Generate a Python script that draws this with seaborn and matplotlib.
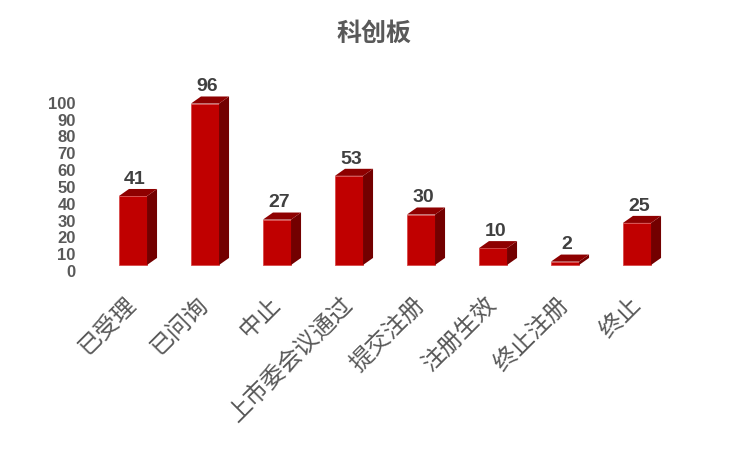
import pandas as pd
import seaborn as sns
import matplotlib.pyplot as plt
from matplotlib.patches import Polygon

# chart data
categories = ["已受理", "已问询", "中止", "上市委会议通过", "提交注册", "注册生效", "终止注册", "终止"]
counts = [41, 96, 27, 53, 30, 10, 2, 25]
y_ticks = [0, 10, 20, 30, 40, 50, 60, 70, 80, 90, 100]
title = "科创板"

data = pd.DataFrame({"status": categories, "count": counts})

sns.set_theme(style="white")
plt.rcParams['font.family'] = ['Noto Sans CJK SC', 'DejaVu Sans']

px_per_unit = 1.68
y_low = -4
bottom_px = 265 - y_low * px_per_unit
fig = plt.figure(figsize=(7.49, 4.49), dpi=100)
ax = fig.add_axes([80 / 749, (449 - bottom_px) / 449, 620 / 749, (bottom_px - 80) / 449])

bar_w = 0.39
sns.barplot(data=data, x="status", y="count", color="#C00000", width=bar_w,
            saturation=1, edgecolor="#D84A4A", linewidth=0.6, ax=ax)

# fake 3d depth: side + top faces
dx = 0.139
dy = 4.2
for p in ax.patches:
    x0 = p.get_x()
    w = p.get_width()
    h = p.get_height()
    side = Polygon([(x0 + w, 0), (x0 + w + dx, dy), (x0 + w + dx, h + dy), (x0 + w, h)],
                   closed=True, facecolor="#730000", edgecolor="none", zorder=3)
    top = Polygon([(x0, h), (x0 + w, h), (x0 + w + dx, h + dy), (x0 + dx, h + dy)],
                  closed=True, facecolor="#8E0000", edgecolor="none", zorder=3)
    ax.add_patch(side)
    ax.add_patch(top)
    ax.annotate(f"{int(h)}", (x0 + w / 2, h), xytext=(1.5, 6), textcoords="offset points",
                ha="center", va="bottom", fontsize=14, fontweight="bold", color="#404040",
                family=["Liberation Sans", "DejaVu Sans"])

ax.set_xlim(-0.736, 7.875)
ax.set_ylim(y_low, 110)
# axis labels sit a little below the front faces (excel 3d look)
tick_shift = 6 / px_per_unit
ax.set_yticks([t - tick_shift for t in y_ticks])
ax.set_yticklabels([str(t) for t in y_ticks], fontsize=12, fontweight="bold", color="#595959",
                   family=["Liberation Sans", "DejaVu Sans"])

ax.set_xticks(range(len(categories)))
ax.set_xticklabels(categories, rotation=45, ha="right", va="center", rotation_mode="anchor",
                   fontsize=17, color="#595959")
ax.tick_params(axis="x", length=0, pad=21)
ax.tick_params(axis="y", length=0, pad=3)
ax.set_xlabel("")
ax.set_ylabel("")
for s in ax.spines.values():
    s.set_visible(False)

fig.text(374 / 749, 1 - 34 / 449, title, ha="center", va="center", fontsize=18,
         fontweight="bold", color="#595959")

fig.savefig("out.png", dpi=100)
